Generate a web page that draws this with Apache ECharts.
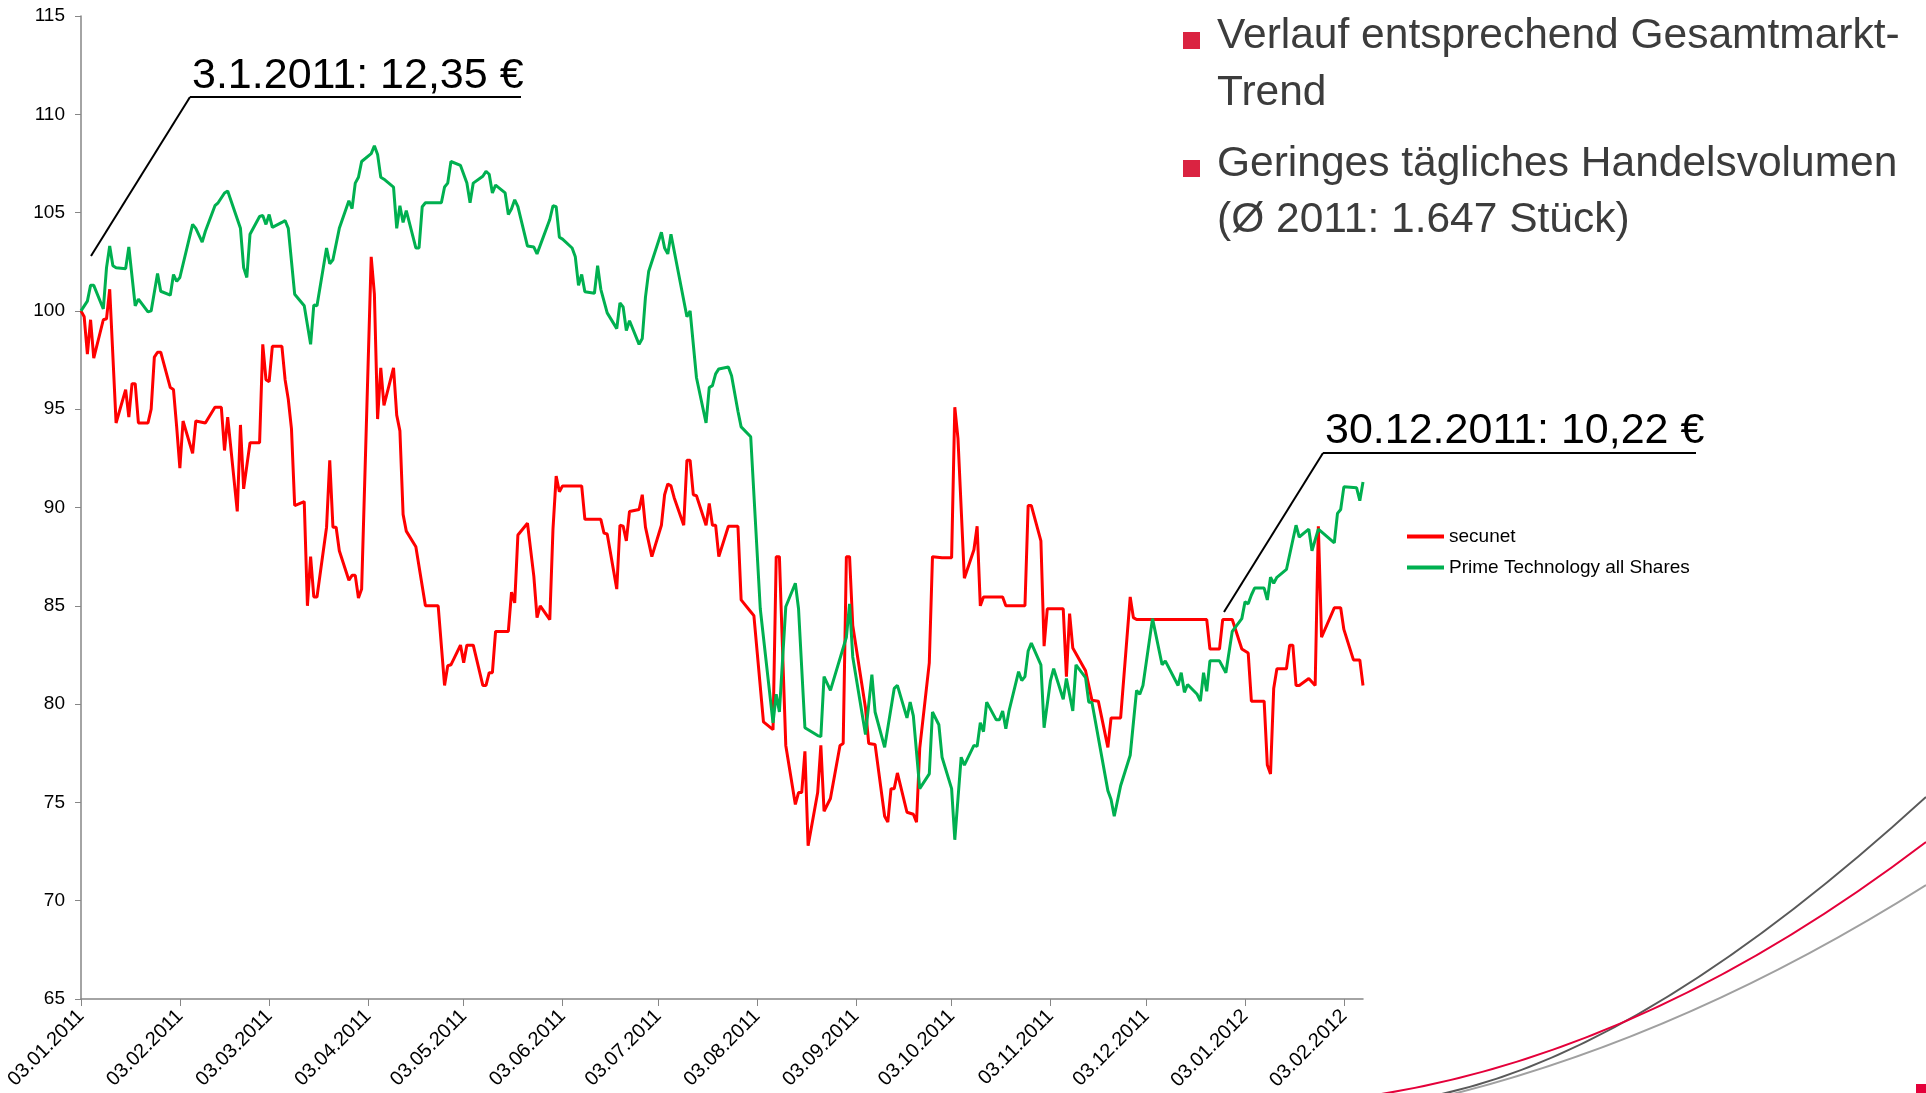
<!DOCTYPE html>
<html>
<head>
<meta charset="utf-8">
<script src="https://cdn.jsdelivr.net/npm/echarts@6/dist/echarts.min.js"></script>
<style>
html,body{margin:0;padding:0;background:#ffffff;}
#chart{width:1926px;height:1093px;}
</style>
</head>
<body>
<div id="chart"></div>
<script>
// ---------- data ----------
const axisStart = '03.01.2011';
const axisEnd = '09.02.2012';
const tickLabels = ['03.01.2011','03.02.2011','03.03.2011','03.04.2011','03.05.2011','03.06.2011','03.07.2011',
  '03.08.2011','03.09.2011','03.10.2011','03.11.2011','03.12.2011','03.01.2012','03.02.2012'];
const yMin = 65, yMax = 115, yStep = 5;
const seriesNames = ['secunet', 'Prime Technology all Shares'];

const secunetDates = [
  '03.01.2011','04.01.2011','05.01.2011','06.01.2011','07.01.2011','10.01.2011','11.01.2011','12.01.2011','14.01.2011','17.01.2011','18.01.2011','19.01.2011','20.01.2011','21.01.2011','24.01.2011','25.01.2011','26.01.2011','27.01.2011','28.01.2011','31.01.2011',
  '01.02.2011','02.02.2011','03.02.2011','04.02.2011','07.02.2011','08.02.2011','11.02.2011','14.02.2011','16.02.2011','17.02.2011','18.02.2011','21.02.2011','22.02.2011','23.02.2011','25.02.2011','28.02.2011',
  '01.03.2011','02.03.2011','03.03.2011','04.03.2011','07.03.2011','08.03.2011','09.03.2011','10.03.2011','11.03.2011','14.03.2011','15.03.2011','16.03.2011','17.03.2011','18.03.2011','21.03.2011','22.03.2011','23.03.2011','24.03.2011','25.03.2011','28.03.2011','29.03.2011','30.03.2011','31.03.2011',
  '01.04.2011','04.04.2011','05.04.2011','06.04.2011','07.04.2011','08.04.2011','11.04.2011','12.04.2011','13.04.2011','14.04.2011','15.04.2011','18.04.2011','21.04.2011','25.04.2011','27.04.2011','28.04.2011','29.04.2011',
  '02.05.2011','03.05.2011','04.05.2011','06.05.2011','09.05.2011','10.05.2011','11.05.2011','12.05.2011','13.05.2011','17.05.2011','18.05.2011','19.05.2011','20.05.2011','23.05.2011','25.05.2011','26.05.2011','27.05.2011','30.05.2011','31.05.2011',
  '01.06.2011','02.06.2011','03.06.2011','09.06.2011','10.06.2011','15.06.2011','16.06.2011','17.06.2011','20.06.2011','21.06.2011','22.06.2011','23.06.2011','24.06.2011','27.06.2011','28.06.2011','29.06.2011',
  '01.07.2011','04.07.2011','05.07.2011','06.07.2011','07.07.2011','08.07.2011','11.07.2011','12.07.2011','13.07.2011','14.07.2011','15.07.2011','18.07.2011','19.07.2011','20.07.2011','21.07.2011','22.07.2011','25.07.2011','28.07.2011','29.07.2011',
  '01.08.2011','02.08.2011','05.08.2011','08.08.2011','09.08.2011','10.08.2011','12.08.2011','15.08.2011','16.08.2011','17.08.2011','18.08.2011','19.08.2011','22.08.2011','23.08.2011','24.08.2011','26.08.2011','29.08.2011','30.08.2011','31.08.2011',
  '01.09.2011','02.09.2011','06.09.2011','07.09.2011','09.09.2011','12.09.2011','13.09.2011','14.09.2011','15.09.2011','16.09.2011','19.09.2011','21.09.2011','22.09.2011','23.09.2011','26.09.2011','27.09.2011','30.09.2011',
  '03.10.2011','04.10.2011','05.10.2011','07.10.2011','10.10.2011','11.10.2011','12.10.2011','13.10.2011','19.10.2011','20.10.2011','26.10.2011','27.10.2011','28.10.2011','31.10.2011',
  '01.11.2011','02.11.2011','07.11.2011','08.11.2011','09.11.2011','10.11.2011','14.11.2011','16.11.2011','18.11.2011','21.11.2011','22.11.2011','25.11.2011','28.11.2011','29.11.2011','30.11.2011',
  '22.12.2011','23.12.2011','26.12.2011','27.12.2011','30.12.2011',
  '02.01.2012','04.01.2012','05.01.2012','09.01.2012','10.01.2012','11.01.2012','12.01.2012','13.01.2012','16.01.2012','17.01.2012','18.01.2012','19.01.2012','20.01.2012','23.01.2012','25.01.2012','26.01.2012','27.01.2012','31.01.2012',
  '02.02.2012','03.02.2012','06.02.2012','08.02.2012','09.02.2012'
];
const secunetValues = [
  100,99.7,97.8,99.55,97.6,99.55,99.6,101.1,94.3,96.0,94.6,96.3,96.3,94.3,94.3,95.0,97.65,97.9,97.9,96.1,
  96.0,94.1,92.0,94.4,92.75,94.4,94.3,95.1,95.1,92.9,94.6,89.8,94.2,90.95,93.3,93.3,
  98.3,96.5,96.4,98.2,98.2,96.5,95.5,94.0,90.1,90.3,85.0,87.5,85.45,85.45,89.0,92.4,89.0,89.0,87.8,86.3,86.55,86.55,85.4,
  85.85,102.75,100.85,94.5,97.1,95.2,97.1,94.7,93.9,89.65,88.8,88.0,85.0,85.0,80.95,81.95,82.0,
  83.0,82.1,83.0,83.0,80.95,80.95,81.6,81.6,83.7,83.7,85.7,85.15,88.6,89.2,86.5,84.4,85.0,84.3,88.9,
  91.6,90.8,91.1,91.1,89.4,89.4,88.7,88.65,85.85,89.1,89.05,88.3,89.8,89.9,90.65,89.0,
  87.5,89.1,90.65,91.2,91.1,90.5,89.1,92.4,92.4,90.65,90.6,89.1,90.2,89.1,89.1,87.5,89.05,89.05,85.3,
  84.7,84.5,79.1,78.7,87.5,87.5,77.9,74.9,75.5,75.5,77.6,72.8,75.5,77.9,74.55,75.2,77.9,78.0,87.5,
  87.5,84.0,79.8,78.0,77.95,74.3,74.0,75.7,75.7,76.5,74.5,74.4,74.0,77.75,82.1,87.5,87.45,
  87.45,95.1,93.5,86.4,87.85,89.05,85.0,85.45,85.45,85.0,85.0,90.1,90.1,88.3,
  82.95,84.85,84.85,81.4,84.6,82.85,81.7,80.2,80.15,77.8,79.3,79.3,85.45,84.4,84.3,
  84.3,82.8,82.8,84.3,84.3,
  82.8,82.6,80.15,80.15,76.9,76.45,80.8,81.8,81.8,83.0,83.0,80.95,80.95,81.3,80.95,89.05,83.4,84.9,
  84.9,83.8,82.25,82.25,80.95
];

const primeDates = [
  '03.01.2011','05.01.2011','06.01.2011','07.01.2011','10.01.2011','11.01.2011','12.01.2011','13.01.2011','14.01.2011','17.01.2011','18.01.2011','20.01.2011','21.01.2011','24.01.2011','25.01.2011','27.01.2011','28.01.2011','31.01.2011',
  '01.02.2011','02.02.2011','03.02.2011','07.02.2011','08.02.2011','10.02.2011','11.02.2011','14.02.2011','15.02.2011','17.02.2011','18.02.2011','22.02.2011','23.02.2011','24.02.2011','25.02.2011','28.02.2011',
  '01.03.2011','02.03.2011','03.03.2011','04.03.2011','07.03.2011','08.03.2011','09.03.2011','11.03.2011','14.03.2011','16.03.2011','17.03.2011','18.03.2011','21.03.2011','22.03.2011','23.03.2011','25.03.2011','28.03.2011','29.03.2011','30.03.2011','31.03.2011',
  '01.04.2011','04.04.2011','05.04.2011','06.04.2011','07.04.2011','08.04.2011','11.04.2011','12.04.2011','13.04.2011','14.04.2011','15.04.2011','18.04.2011','19.04.2011','20.04.2011','21.04.2011','26.04.2011','27.04.2011','28.04.2011','29.04.2011',
  '02.05.2011','04.05.2011','05.05.2011','06.05.2011','09.05.2011','10.05.2011','11.05.2011','12.05.2011','13.05.2011','16.05.2011','17.05.2011','18.05.2011','19.05.2011','20.05.2011','23.05.2011','25.05.2011','26.05.2011','30.05.2011','31.05.2011',
  '01.06.2011','02.06.2011','03.06.2011','06.06.2011','07.06.2011','08.06.2011','09.06.2011','10.06.2011','13.06.2011','14.06.2011','15.06.2011','17.06.2011','20.06.2011','21.06.2011','22.06.2011','23.06.2011','24.06.2011','27.06.2011','28.06.2011','29.06.2011','30.06.2011',
  '04.07.2011','05.07.2011','06.07.2011','07.07.2011','12.07.2011','13.07.2011','15.07.2011','18.07.2011','19.07.2011','20.07.2011','21.07.2011','22.07.2011','25.07.2011','26.07.2011','28.07.2011','29.07.2011',
  '01.08.2011','04.08.2011','08.08.2011','09.08.2011','10.08.2011','12.08.2011','15.08.2011','16.08.2011','18.08.2011','22.08.2011','23.08.2011','24.08.2011','26.08.2011','31.08.2011',
  '01.09.2011','02.09.2011','06.09.2011','08.09.2011','09.09.2011','12.09.2011','15.09.2011','16.09.2011','19.09.2011','20.09.2011','21.09.2011','23.09.2011','26.09.2011','27.09.2011','29.09.2011','30.09.2011',
  '03.10.2011','04.10.2011','06.10.2011','07.10.2011','10.10.2011','11.10.2011','12.10.2011','13.10.2011','14.10.2011','17.10.2011','18.10.2011','19.10.2011','20.10.2011','21.10.2011','24.10.2011','25.10.2011','26.10.2011','27.10.2011','28.10.2011','31.10.2011',
  '01.11.2011','02.11.2011','03.11.2011','04.11.2011','07.11.2011','08.11.2011','10.11.2011','11.11.2011','14.11.2011','15.11.2011','16.11.2011','21.11.2011','22.11.2011','23.11.2011','25.11.2011','28.11.2011','30.11.2011',
  '01.12.2011','02.12.2011','05.12.2011','08.12.2011','09.12.2011','13.12.2011','14.12.2011','15.12.2011','16.12.2011','19.12.2011','20.12.2011','21.12.2011','22.12.2011','23.12.2011','26.12.2011','28.12.2011','30.12.2011',
  '02.01.2012','03.01.2012','04.01.2012','05.01.2012','06.01.2012','09.01.2012','10.01.2012','11.01.2012','12.01.2012','13.01.2012','16.01.2012','19.01.2012','20.01.2012','23.01.2012','24.01.2012','26.01.2012','31.01.2012',
  '01.02.2012','02.02.2012','03.02.2012','07.02.2012','08.02.2012','09.02.2012'
];
const primeValues = [
  100.0,100.5,101.3,101.3,100.1,102.2,103.3,102.3,102.2,102.15,103.25,100.26,100.6,99.95,100.0,101.9,101.0,100.8,
  101.85,101.5,101.7,104.4,104.2,103.5,104.05,105.35,105.5,106.0,106.1,104.2,102.2,101.7,103.9,104.8,
  104.85,104.4,104.9,104.25,104.5,104.6,104.2,100.85,100.26,98.3,100.3,100.26,103.2,102.4,102.6,104.2,105.6,105.2,106.5,106.8,
  107.6,108.0,108.4,107.96,106.8,106.7,106.3,104.2,105.35,104.5,105.1,103.2,103.2,105.3,105.5,105.5,106.3,106.5,107.6,
  107.4,106.5,105.5,106.5,106.85,107.1,106.95,106.0,106.4,106.0,104.9,105.2,105.65,105.3,103.3,103.25,102.9,104.65,105.35,
  105.3,103.75,103.65,103.2,102.75,101.3,101.85,100.97,100.9,102.3,101.1,99.9,99.1,100.4,100.2,99.0,99.5,98.3,98.6,100.7,102.0,
  104.0,103.2,102.9,103.9,99.7,100.0,96.6,94.3,96.1,96.2,96.8,97.05,97.15,96.7,94.9,94.1,
  93.6,84.85,79.05,80.5,79.6,84.95,86.15,84.85,78.8,78.4,78.35,81.4,80.7,83.4,
  85.1,82.4,78.45,81.5,79.6,77.8,80.8,80.95,79.3,80.1,79.4,75.7,76.45,79.6,78.95,77.3,
  75.7,73.1,77.3,76.9,77.9,77.85,79.05,78.6,80.1,79.2,79.2,79.65,78.75,79.65,81.65,81.2,81.4,82.7,83.1,82.0,
  78.8,80.0,81.2,81.8,80.25,81.3,79.65,82.0,81.35,80.1,80.1,75.6,75.15,74.3,75.85,77.4,80.7,
  80.5,80.95,84.35,82.0,82.2,80.95,81.6,80.6,81.0,80.5,80.15,81.6,80.65,82.2,82.2,81.6,83.7,
  84.35,85.2,85.1,85.55,85.9,85.9,85.3,86.45,86.15,86.45,86.85,89.1,88.5,88.9,87.8,88.9,88.2,
  89.7,89.9,91.05,91.0,90.35,91.3
];

const noteLeft = '3.1.2011: 12,35 €';
const noteRight = '30.12.2011: 10,22 €';
const bulletLines = [
  ['Verlauf entsprechend Gesamtmarkt-', 'Trend'],
  ['Geringes tägliches Handelsvolumen', '(Ø 2011: 1.647 Stück)']
];

// ---------- build ----------
function parseDate(s) { const p = s.split('.').map(Number); return Date.UTC(p[2], p[1] - 1, p[0]); }
function fmtDate(t) {
  const d = new Date(t);
  const pad = n => (n < 10 ? '0' : '') + n;
  return pad(d.getUTCDate()) + '.' + pad(d.getUTCMonth() + 1) + '.' + d.getUTCFullYear();
}
const categories = [];
for (let t = parseDate(axisStart); t <= parseDate(axisEnd); t += 86400000) categories.push(fmtDate(t));
const catIndex = {};
categories.forEach((c, i) => { catIndex[c] = i; });
const tickSet = new Set(tickLabels);
const toData = (dates, vals) => dates.map((d, i) => [catIndex[d], vals[i]]);

const FONT = '"Liberation Sans", Arial, sans-serif';
const chart = echarts.init(document.getElementById('chart'), null, { renderer: 'canvas' });

const option = {
  backgroundColor: '#ffffff',
  animation: false,
  grid: { left: 81, right: 563, top: 16, bottom: 91.5, containLabel: false },
  legend: {
    orient: 'vertical',
    left: 1402,
    top: 522,
    icon: 'rect',
    itemWidth: 37,
    itemHeight: 4,
    itemGap: 12,
    textStyle: { fontFamily: FONT, fontSize: 19, color: '#000000' },
    data: seriesNames
  },
  xAxis: {
    type: 'category',
    data: categories,
    boundaryGap: false,
    axisLine: { lineStyle: { color: '#868686', width: 1.5 } },
    axisTick: { interval: (i, v) => tickSet.has(v), length: 7, lineStyle: { color: '#868686' } },
    axisLabel: {
      interval: (i, v) => tickSet.has(v),
      rotate: 45,
      fontFamily: FONT,
      fontSize: 20,
      color: '#000000',
      margin: 14
    },
    splitLine: { show: false }
  },
  yAxis: {
    type: 'value',
    min: yMin,
    max: yMax,
    interval: yStep,
    axisLine: { show: true, lineStyle: { color: '#868686', width: 1.5 } },
    axisTick: { show: true, length: 6, lineStyle: { color: '#868686' } },
    axisLabel: { fontFamily: FONT, fontSize: 19, color: '#000000', margin: 16 },
    splitLine: { show: false }
  },
  series: [
    {
      name: seriesNames[0], type: 'line', symbol: 'none', color: '#FF0000',
      lineStyle: { width: 3, color: '#FF0000' },
      data: toData(secunetDates, secunetValues)
    },
    {
      name: seriesNames[1], type: 'line', symbol: 'none', color: '#00B050',
      lineStyle: { width: 3, color: '#00B050' },
      data: toData(primeDates, primeValues)
    }
  ],
  graphic: [
    // annotation left
    { type: 'text', x: 192, y: 76, style: { text: noteLeft, fontFamily: FONT, fontSize: 43, fill: '#000000', verticalAlign: 'middle' } },
    { type: 'line', shape: { x1: 190, y1: 97, x2: 521, y2: 97 }, style: { stroke: '#000000', lineWidth: 2 } },
    { type: 'line', shape: { x1: 190, y1: 97, x2: 91, y2: 256 }, style: { stroke: '#000000', lineWidth: 2 } },
    // annotation right
    { type: 'text', x: 1325, y: 431, style: { text: noteRight, fontFamily: FONT, fontSize: 43, fill: '#000000', verticalAlign: 'middle' } },
    { type: 'line', shape: { x1: 1323, y1: 453, x2: 1696, y2: 453 }, style: { stroke: '#000000', lineWidth: 2 } },
    { type: 'line', shape: { x1: 1323, y1: 453, x2: 1224, y2: 612 }, style: { stroke: '#000000', lineWidth: 2 } },
    // bullets
    { type: 'rect', shape: { x: 1183, y: 32, width: 17, height: 17 }, style: { fill: '#DA2341' } },
    { type: 'rect', shape: { x: 1183, y: 160, width: 17, height: 17 }, style: { fill: '#DA2341' } },
    { type: 'text', x: 1217, y: 36, style: { text: bulletLines[0][0], fontFamily: FONT, fontSize: 42.5, fill: '#3C3C3C', verticalAlign: 'middle' } },
    { type: 'text', x: 1217, y: 93, style: { text: bulletLines[0][1], fontFamily: FONT, fontSize: 42.5, fill: '#3C3C3C', verticalAlign: 'middle' } },
    { type: 'text', x: 1217, y: 164, style: { text: bulletLines[1][0], fontFamily: FONT, fontSize: 42.5, fill: '#3C3C3C', verticalAlign: 'middle' } },
    { type: 'text', x: 1217, y: 220, style: { text: bulletLines[1][1], fontFamily: FONT, fontSize: 42.5, fill: '#3C3C3C', verticalAlign: 'middle' } },
    // decorative swoosh bottom right
    { type: 'bezierCurve', shape: { x1: 1437, y1: 1095, x2: 1926, y2: 797, cpx1: 1648, cpy1: 1051 }, style: { stroke: '#595959', lineWidth: 2, fill: null } },
    { type: 'bezierCurve', shape: { x1: 1375, y1: 1095, x2: 1926, y2: 842, cpx1: 1650, cpy1: 1052 }, style: { stroke: '#E4003A', lineWidth: 2, fill: null } },
    { type: 'bezierCurve', shape: { x1: 1449, y1: 1095, x2: 1926, y2: 885, cpx1: 1688, cpy1: 1035 }, style: { stroke: '#A0A0A0', lineWidth: 2, fill: null } },
    { type: 'rect', shape: { x: 1916, y: 1084, width: 10, height: 9 }, style: { fill: '#E4003A' } }
  ]
};
chart.setOption(option);
</script>
</body>
</html>
